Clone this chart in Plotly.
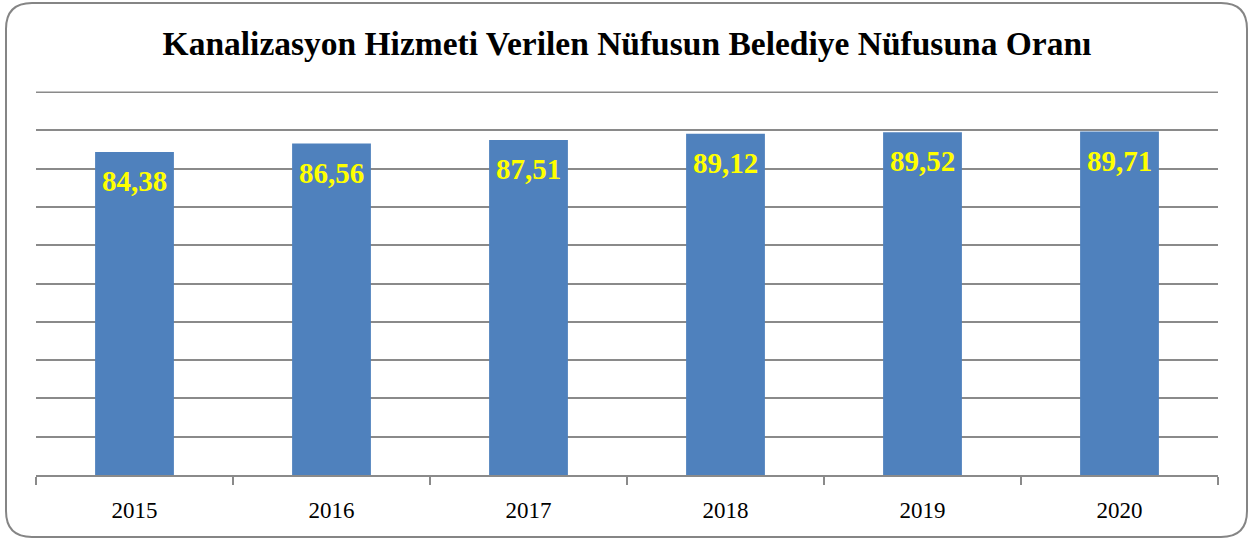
import plotly.graph_objects as go

years = ["2015", "2016", "2017", "2018", "2019", "2020"]
values = [84.38, 86.56, 87.51, 89.12, 89.52, 89.71]
title_text = "Kanalizasyon Hizmeti Verilen Nüfusun Belediye Nüfusuna Oranı"
y_max = 100

W, H = 1254, 540
ml, mr, mt, mb = 36, 36, 91, 65
pw, ph = W - ml - mr, H - mt - mb

xs = list(range(len(years)))

fig = go.Figure()
fig.add_trace(go.Bar(
    x=xs, y=values, width=0.4,
    marker=dict(color="#4F81BD", line=dict(width=0)),
    hoverinfo="skip",
))

for x, v in zip(xs, values):
    fig.add_annotation(
        x=x, y=v, xref="x", yref="y",
        text=f"{v:.2f}".replace(".", ","),
        showarrow=False, yanchor="top", yshift=-11,
        font=dict(family="Liberation Serif", size=29, color="#FFFF00", weight="bold"),
    )

# top gridline at the axis maximum
fig.add_shape(type="line", xref="paper", yref="y", x0=0, x1=1, y0=y_max, y1=y_max,
              line=dict(color="#8a8a8a", width=1.5), layer="below")

# rounded border in paper coordinates
def px2x(p):
    return (p - ml) / pw

def py2y(p):
    return (H - mb - p) / ph

L, R, T, B, r = 6, 1247, 3, 537, 26
path = (
    f"M {px2x(L + r)} {py2y(T)} L {px2x(R - r)} {py2y(T)} "
    f"Q {px2x(R)} {py2y(T)} {px2x(R)} {py2y(T + r)} "
    f"L {px2x(R)} {py2y(B - r)} "
    f"Q {px2x(R)} {py2y(B)} {px2x(R - r)} {py2y(B)} "
    f"L {px2x(L + r)} {py2y(B)} "
    f"Q {px2x(L)} {py2y(B)} {px2x(L)} {py2y(B - r)} "
    f"L {px2x(L)} {py2y(T + r)} "
    f"Q {px2x(L)} {py2y(T)} {px2x(L + r)} {py2y(T)} Z"
)
fig.add_shape(type="path", path=path, xref="paper", yref="paper",
              line=dict(color="#858585", width=2), layer="above")

fig.update_layout(
    width=W, height=H,
    margin=dict(l=ml, r=mr, t=mt, b=mb),
    paper_bgcolor="white", plot_bgcolor="white",
    showlegend=False,
    title=dict(text=title_text, x=0.5, xanchor="center",
               y=1 - 43 / H, yanchor="middle", yref="container",
               font=dict(family="Liberation Serif", size=33.5, color="black", weight="bold")),
    xaxis=dict(
        range=[-0.5, 5.5], tickvals=xs, ticktext=years,
        ticks="", showgrid=False, zeroline=False,
        showline=True, linecolor="#8a8a8a", linewidth=1.5,
        tickfont=dict(family="Liberation Serif", size=23, color="black"),
        ticklabelstandoff=14,
        minor=dict(tickvals=[i - 0.5 for i in range(len(years) + 1)],
                   ticks="outside", ticklen=8, tickcolor="#8a8a8a", tickwidth=1.5,
                   showgrid=False),
        fixedrange=True,
    ),
    yaxis=dict(
        range=[0, y_max + 0.3], tickvals=list(range(10, y_max, 10)),
        showticklabels=False, ticks="",
        showgrid=True, gridcolor="#8a8a8a", gridwidth=1.5,
        zeroline=False, showline=False, fixedrange=True,
    ),
)

fig.write_html(
    "out.html",
    config={"displayModeBar": False},
    post_script="document.body.style.margin='0';document.body.style.overflow='hidden';",
)
